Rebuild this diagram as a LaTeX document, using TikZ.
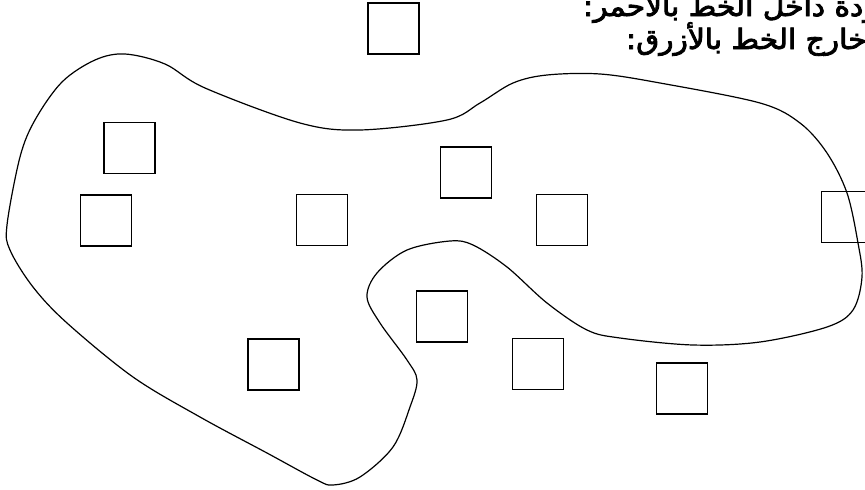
\documentclass[tikz,border=0pt]{standalone}
\usepackage{fontspec}
\usepackage{graphicx}
\TeXXeTstate=1
\newfontfamily\arabicfont[Script=Arabic,FakeBold=3]{DejaVu Sans}
\begin{document}
\begin{tikzpicture}[x=1pt,y=-1pt,
  box/.style={draw, line width=1.3pt, minimum size=51pt, inner sep=0pt},
  blob/.style={line width=1.2pt},
  lbl/.style={font=\arabicfont\fontsize{28}{31}\selectfont, inner sep=0pt, anchor=base west}]
\useasboundingbox (0,0) rectangle (865,490);
\clip (0,0) rectangle (865,490);
\fill[white] (0,0) rectangle (865,490);
% closed curve
\draw[blob] plot[smooth cycle, tension=0.55] coordinates {
 (7,225) (20,157) (35,120) (62,82) (95,60) (125,54) (165,64) (205,88) (300,123)
 (360,130) (447,120) (480,103) (513,83) (547,75) (600,74) (660,83) (760,103)
 (800,123) (827,153) (847,193) (858,243) (862,277) (853,310) (827,327)
 (760,342) (693,345) (620,338) (587,330) (547,303) (507,267) (473,245)
 (450,241) (407,250) (377,273) (367,297) (380,323) (407,360) (417,380)
 (410,407) (393,447) (360,477) (333,485) (317,480) (267,453) (200,417)
 (133,377) (67,323) (33,287) (10,250)};
% squares
\node[box] (s1) at (393.5,28.5) {};
\node[box] (s2) at (129.5,148) {};
\node[box] (s3) at (106,220.5) {};
\node[box] (s4) at (322,220) {};
\node[box] (s5) at (466,172.5) {};
\node[box] (s6) at (562,220) {};
\node[box] (s7) at (847,217) {};
\node[box] (s8) at (442,316.5) {};
\node[box] (s9) at (273.5,364.5) {};
\node[box] (s10) at (538,364) {};
\node[box] (s11) at (682,388.5) {};
% text (runs past the right edge, as in the reference)
\node[lbl] (t1) at (583,16) {\scalebox{1.06}[1]{\beginR الموجودة داخل الخط بالأحمر:\endR}};
\node[lbl] (t2) at (626,49) {\scalebox{1.06}[1]{\beginR خارج الخط بالأزرق:\endR}};
\end{tikzpicture}
\end{document}
